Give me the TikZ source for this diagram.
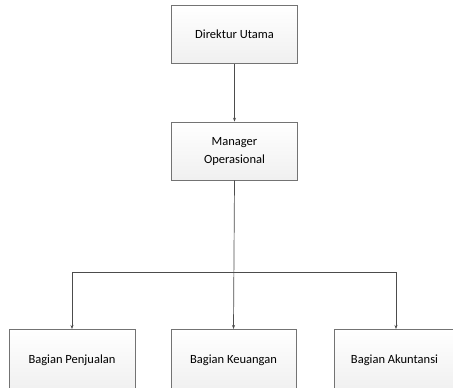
\documentclass[tikz,border=0pt]{standalone}
\usepackage{fontspec}
\setmainfont{Carlito}
\usetikzlibrary{arrows.meta,shadows}
\begin{document}
\begin{tikzpicture}[x=1pt,y=-1pt,
  box/.style={draw=black!55,line width=0.7pt,top color=white,bottom color=black!6,inner sep=0pt,font=\fontsize{12.5}{18}\selectfont,align=center,drop shadow={shadow xshift=0.8pt,shadow yshift=-0.8pt,fill=black!60,opacity=0.8}},
  conn/.style={draw=black!70,line width=0.7pt},
  arr/.style={conn,-{Stealth[length=4pt,width=3pt]}}]
\useasboundingbox (0,0) rectangle (453,388);
\clip (0,0) rectangle (453,388);
\node[box,minimum width=126pt,minimum height=58pt] (dir) at (234.5,34.5) {Direktur Utama};
\node[box,minimum width=126pt,minimum height=58pt] (man) at (234.5,151) {Manager\\Operasional};
\node[box,minimum width=126pt,minimum height=62pt,anchor=north] (pen) at (72,329) {Bagian Penjualan};
\node[box,minimum width=125pt,minimum height=62pt,anchor=north] (keu) at (233.5,329) {Bagian Keuangan};
\node[box,minimum width=121pt,minimum height=62pt,anchor=north] (aku) at (394.5,329) {Bagian Akuntansi};
\coordinate (hl) at (72,272);
\coordinate (hr) at (396,272);
\draw[arr] (dir) -- (man);
\draw[arr] (man.south) -- (keu.north);
\draw[conn] (hl) -- (hr);
\draw[arr] (hl) -- (pen.north);
\draw[arr] (hr) -- (hr |- aku.north);
\end{tikzpicture}
\end{document}
